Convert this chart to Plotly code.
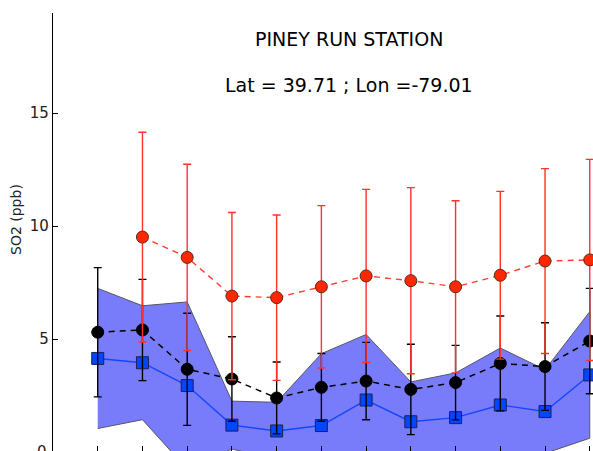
import plotly.graph_objects as go

months = [1, 2, 3, 4, 5, 6, 7, 8, 9, 10, 11, 12]

blue_mean = [4.14, 3.95, 2.94, 1.19, 0.93, 1.17, 2.30, 1.34, 1.52, 2.08, 1.79, 3.41]
blue_std = [3.10, 2.52, 3.70, 1.06, 1.27, 3.18, 2.90, 1.76, 1.98, 2.52, 1.85, 2.80]

black_mean = [5.30, 5.40, 3.66, 3.23, 2.39, 2.86, 3.14, 2.77, 3.07, 3.92, 3.78, 4.91]
black_std = [2.86, 2.24, 2.48, 1.87, 1.59, 1.50, 1.71, 2.00, 1.65, 2.10, 1.94, 2.33]

red_months = [2, 3, 4, 5, 6, 7, 8, 9, 10, 11, 12]
red_mean = [9.51, 8.61, 6.90, 6.83, 7.31, 7.79, 7.58, 7.31, 7.82, 8.45, 8.50]
red_std = [4.64, 4.12, 3.70, 3.66, 3.59, 3.83, 4.12, 3.81, 3.71, 4.09, 4.45]

y_ticks = [5, 10, 15]
title_line1 = "PINEY RUN STATION"
title_line2 = "Lat = 39.71 ; Lon =-79.01"
y_label = "SO2 (ppb)"

W, H = 593, 451
L, R, T, B = 53, 0, 13, 0
pw, ph = W - L - R, H - T - B

upper = [m + s for m, s in zip(blue_mean, blue_std)]
lower = [m - s for m, s in zip(blue_mean, blue_std)]

fig = go.Figure()

# shaded band (mean +/- std)
fig.add_trace(go.Scatter(
    x=months + months[::-1],
    y=upper + lower[::-1],
    fill="toself",
    fillcolor="rgb(120,124,250)",
    line=dict(color="rgb(85,85,100)", width=1),
    mode="lines",
    hoverinfo="skip",
    showlegend=False,
))

# blue squares
fig.add_trace(go.Scatter(
    x=months, y=blue_mean,
    mode="lines+markers",
    line=dict(color="rgb(20,70,255)", width=1.4),
    marker=dict(symbol="square", size=12, color="rgb(0,70,255)",
                line=dict(color="rgb(30,30,90)", width=1)),
    showlegend=False,
))

# black circles with error bars
fig.add_trace(go.Scatter(
    x=months, y=black_mean,
    mode="lines+markers",
    line=dict(color="black", width=1.5, dash="6px,5px"),
    marker=dict(symbol="circle", size=12, color="black",
                line=dict(color="black", width=1)),
    error_y=dict(type="data", array=black_std, visible=True,
                 color="black", thickness=1.4, width=4),
    showlegend=False,
))

# red circles with error bars
fig.add_trace(go.Scatter(
    x=red_months, y=red_mean,
    mode="lines+markers",
    line=dict(color="rgb(255,60,45)", width=1.4, dash="6px,5px"),
    marker=dict(symbol="circle", size=12, color="rgb(255,40,0)",
                line=dict(color="rgb(90,40,30)", width=1)),
    error_y=dict(type="data", array=red_std, visible=True,
                 color="rgb(255,50,40)", thickness=1.4, width=4),
    showlegend=False,
))

px_per_x = 44.73
px_per_y = 22.6
zero_px = 452.0
x_min = 0.0
x_max = x_min + pw / px_per_x
y_min = (zero_px - (H - B)) / px_per_y
y_max = (zero_px - T) / px_per_y

fig.update_xaxes(
    range=[x_min, x_max], tickvals=months, showticklabels=False,
    ticks="inside", ticklen=5, tickcolor="black", tickwidth=1,
    showgrid=False, zeroline=False, showline=False, automargin=False,
)
fig.update_yaxes(
    range=[y_min, y_max], tickvals=y_ticks,
    ticks="inside", ticklen=5, tickcolor="black", tickwidth=1,
    showgrid=False, zeroline=False, showline=True, linecolor="black",
    linewidth=1.3, tickfont=dict(family="DejaVu Sans", size=15, color="#222"),
    ticklabelstandoff=0, automargin=False,
)

def px_to_paper_x(px):
    return (px - L) / pw

def px_to_paper_y(py):
    return (H - B - py) / ph

annotations = [
    dict(text=title_line1, x=px_to_paper_x(349), y=px_to_paper_y(39.5),
         xref="paper", yref="paper", showarrow=False, xanchor="center",
         yanchor="middle", font=dict(family="DejaVu Sans", size=19, color="black")),
    dict(text=title_line2, x=px_to_paper_x(349), y=px_to_paper_y(85),
         xref="paper", yref="paper", showarrow=False, xanchor="center",
         yanchor="middle", font=dict(family="DejaVu Sans", size=19, color="black")),
    dict(text=y_label, x=px_to_paper_x(16), y=px_to_paper_y(220),
         xref="paper", yref="paper", showarrow=False, xanchor="center",
         yanchor="middle", textangle=-90,
         font=dict(family="DejaVu Sans", size=14, color="#222")),
    dict(text="0", x=px_to_paper_x(49), y=px_to_paper_y(zero_px),
         xref="paper", yref="paper", showarrow=False, xanchor="right",
         yanchor="middle", font=dict(family="DejaVu Sans", size=15, color="#222")),
]

fig.update_layout(
    width=W, height=H,
    margin=dict(l=L, r=R, t=T, b=B, pad=0, autoexpand=False),
    paper_bgcolor="white", plot_bgcolor="white",
    annotations=annotations,
    showlegend=False,
)

fig.write_html(
    "out.html",
    config={"displayModeBar": False},
    post_script="document.body.style.margin='0';document.body.style.overflow='hidden';",
)
